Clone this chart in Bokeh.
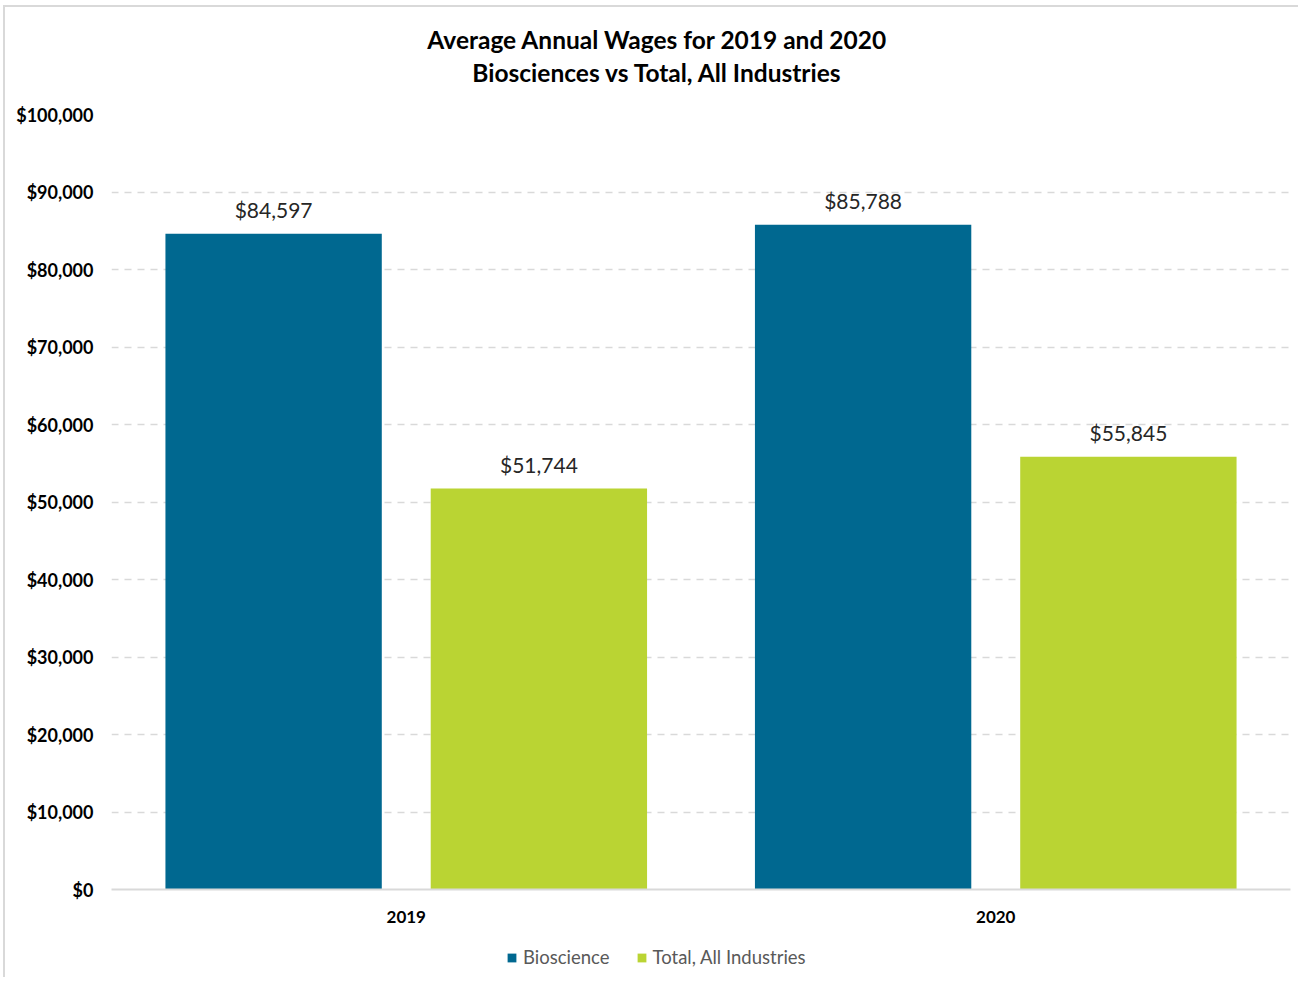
from bokeh.plotting import figure
from bokeh.layouts import column
from bokeh.models import FactorRange, ColumnDataSource, NumeralTickFormatter, Legend, LegendItem, Label, FixedTicker, Range1d
from bokeh.transform import dodge
from bokeh.core.properties import value
from bokeh.embed import file_html
from bokeh.resources import INLINE

years = ["2019", "2020"]
bioscience = [84597, 85788]
total_all = [51744, 55845]
series_names = ["Bioscience", "Total, All Industries"]
title_lines = ["Average Annual Wages for 2019 and 2020", "Biosciences vs Total, All Industries"]

BLUE = "#006890"
GREEN = "#BAD433"
FONT = "Lato"
EDGE = {"margin-left": "3px", "border-left": "2px solid #d9d9d9"}

src = ColumnDataSource(data=dict(
    year=years,
    bio=bioscience,
    tot=total_all,
    bio_lbl=["${:,}".format(v) for v in bioscience],
    tot_lbl=["${:,}".format(v) for v in total_all],
))

p = figure(
    x_range=FactorRange(factors=years, range_padding=0),
    y_range=(0, 100000),
    frame_width=1177, frame_height=773,
    output_backend="svg", toolbar_location=None,
    min_border_left=106, min_border_right=10, min_border_top=107, min_border_bottom=50,
    styles=dict(EDGE, **{"margin-top": "5px", "border-top": "2px solid #d9d9d9"}),
)
p.outline_line_color = None
p.background_fill_color = "white"
p.border_fill_color = "white"

r1 = p.vbar(x=dodge("year", -0.225, range=p.x_range), top="bio", width=0.367, source=src,
            fill_color=BLUE, line_color=None)
r2 = p.vbar(x=dodge("year", 0.225, range=p.x_range), top="tot", width=0.367, source=src,
            fill_color=GREEN, line_color=None)

for col, off in (("bio", -0.225), ("tot", 0.225)):
    p.text(x=dodge("year", off, range=p.x_range), y=col, text=col + "_lbl", source=src,
           text_align="center", text_baseline="middle", y_offset=-24,
           text_font=value(FONT), text_font_size="21px", text_color="#262626")

# axes
p.yaxis.ticker = FixedTicker(ticks=list(range(0, 100001, 10000)))
p.yaxis.formatter = NumeralTickFormatter(format="$0,0")
p.yaxis.axis_line_color = None
p.yaxis.major_tick_line_color = None
p.yaxis.minor_tick_line_color = None
p.yaxis.major_label_standoff = 12
p.yaxis.major_label_text_font = FONT
p.yaxis.major_label_text_font_size = "18px"
p.yaxis.major_label_text_font_style = "bold"
p.yaxis.major_label_text_color = "#000000"

p.xaxis.axis_line_color = "#d9d9d9"
p.xaxis.axis_line_width = 2
p.xaxis.major_tick_line_color = None
p.xaxis.minor_tick_line_color = None
p.xaxis.major_label_standoff = 15
p.xaxis.major_label_text_font = FONT
p.xaxis.major_label_text_font_size = "17px"
p.xaxis.major_label_text_font_style = "bold"
p.xaxis.major_label_text_color = "#000000"

p.xgrid.grid_line_color = None
p.ygrid.grid_line_color = "#d9d9d9"
p.ygrid.grid_line_width = 1.5
p.ygrid.grid_line_dash = "7 6"

# two-line title in the panel above the plot
for line, ypos in zip(title_lines, (75, 13)):
    p.add_layout(Label(x=546, y=ypos, x_units="screen", y_units="screen", text=line,
                       text_align="center", text_baseline="middle",
                       text_font=FONT, text_font_size="24.5px", text_font_style="bold",
                       text_color="#000000"), "above")

# legend strip below the chart (zero-height key renderers only supply the legend swatches)
lf = figure(frame_width=1293, frame_height=40, min_border=0,
            x_range=Range1d(0, 1), y_range=Range1d(0, 1),
            x_axis_location=None, y_axis_location=None,
            output_backend="svg", toolbar_location=None, styles=EDGE)
lf.outline_line_color = None
lf.grid.visible = False
lf.border_fill_color = "white"
k1 = lf.vbar(x=[0], top=[0], width=0, fill_color=BLUE, line_color=None)
k2 = lf.vbar(x=[0], top=[0], width=0, fill_color=GREEN, line_color=None)

legend = Legend(items=[LegendItem(label=series_names[0], renderers=[k1]),
                       LegendItem(label=series_names[1], renderers=[k2])],
                orientation="horizontal", location=(501, 9),
                glyph_width=11, glyph_height=11, label_standoff=6, spacing=26,
                padding=5, margin=0, border_line_color=None, background_fill_alpha=0,
                label_text_font=FONT, label_text_font_size="18.5px", label_text_color="#595959")
lf.add_layout(legend, "center")

layout = column(p, lf, spacing=0)
open("out.html", "w").write(file_html(layout, INLINE))
